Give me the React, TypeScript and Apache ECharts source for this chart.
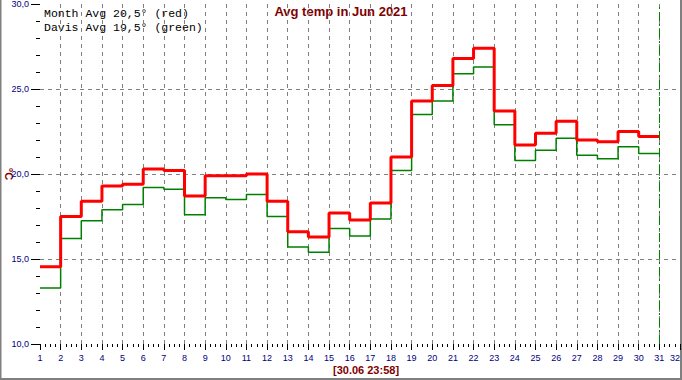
import React, { useEffect, useRef } from "react";
import * as echarts from "echarts";

const days: number[] = [1,2,3,4,5,6,7,8,9,10,11,12,13,14,15,16,17,18,19,20,21,22,23,24,25,26,27,28,29,30];
const monthAvg: number[] = [14.55,17.5,18.4,19.3,19.4,20.3,20.2,18.7,19.9,19.9,20.0,18.4,16.6,16.3,17.7,17.3,18.3,21.0,24.3,25.2,26.8,27.4,23.7,21.7,22.4,23.1,22.0,21.9,22.5,22.2];
const davisAvg: number[] = [13.3,16.2,17.25,17.9,18.2,19.2,19.1,17.6,18.6,18.5,18.8,17.5,15.7,15.4,16.8,16.35,17.35,20.2,23.5,24.3,25.9,26.3,22.9,20.8,21.4,22.1,21.1,20.9,21.6,21.2];
const xTicks = { min: 1, max: 32, interval: 1 };
const yTicks = { min: 10, max: 30, interval: 5 };
const lastDay = 31;
const title = "Avg temp in Jun 2021";
const legendLines: string[] = ["Month Avg 20,5° (red)", "Davis Avg 19,5° (green)"];
const footer = "[30.06 23:58]";
const unitLabel = "°C";

function toSteps(vals: number[]): number[][] {
  const pts = days.map((d, i) => [d, vals[i]]);
  pts.push([lastDay, vals[vals.length - 1]]);
  return pts;
}

export default function App() {
  const ref = useRef<HTMLDivElement>(null);
  useEffect(() => {
    document.body.style.margin = "0";
    const chart = echarts.init(ref.current!, undefined, { renderer: "svg" });
    const labelColor = "#000080";
    const maroon = "#800000";
    chart.setOption({
      animation: false,
      backgroundColor: "#ffffff",
      grid: { left: 40, right: 2, top: 4, bottom: 36, containLabel: false, outerBoundsMode: "none" },
      xAxis: {
        type: "value",
        min: xTicks.min,
        max: xTicks.max,
        interval: xTicks.interval,
        axisLine: { show: false },
        axisTick: { show: true, length: 6, lineStyle: { color: "#000", width: 1 } },
        minorTick: { show: true, splitNumber: 4, length: 3, lineStyle: { color: "#000", width: 1 } },
        axisLabel: { color: labelColor, fontSize: 9, fontFamily: "Liberation Sans, Arial, sans-serif", margin: 9, showMaxLabel: true, showMinLabel: true, alignMaxLabel: "right" },
        splitLine: { show: true, showMinLine: false, showMaxLine: false, lineStyle: { color: "#808080", type: [4, 4], width: 1 } },
      },
      yAxis: {
        type: "value",
        min: yTicks.min,
        max: yTicks.max,
        interval: yTicks.interval,
        axisLine: { show: false },
        axisTick: { show: true, length: 9, lineStyle: { color: "#000", width: 1 } },
        minorTick: { show: true, splitNumber: 5, length: 4, lineStyle: { color: "#000", width: 1 } },
        axisLabel: {
          color: labelColor, fontSize: 9, fontFamily: "Liberation Sans, Arial, sans-serif", margin: 11,
          formatter: (v: number) => v.toFixed(1).replace(".", ","),
        },
        splitLine: { show: true, showMinLine: false, showMaxLine: false, lineStyle: { color: "#808080", type: [4, 4], width: 1 } },
      },
      graphic: [
        { type: "text", left: "center", top: 5, style: { text: title, fill: maroon, font: "bold 13px 'Liberation Sans', Arial, sans-serif" } },
        { type: "text", x: 44, y: 7, style: { text: legendLines[0], fill: "#000", font: "11.5px 'Liberation Mono', 'Courier New', monospace" } },
        { type: "text", x: 44, y: 21, style: { text: legendLines[1], fill: "#000", font: "11.5px 'Liberation Mono', 'Courier New', monospace" } },
        { type: "text", x: 333, y: 364, style: { text: footer, fill: maroon, font: "bold 11px 'Liberation Sans', Arial, sans-serif" } },
        { type: "text", x: 9, y: 174, rotation: -Math.PI / 2, style: { text: unitLabel, fill: maroon, align: "center", verticalAlign: "middle", font: "bold 11px 'Liberation Sans', Arial, sans-serif" } },
        { type: "line", shape: { x1: 0.5, y1: 0, x2: 0.5, y2: 380 }, style: { stroke: "#808080", lineWidth: 2 } },
        { type: "line", shape: { x1: 681, y1: 0, x2: 681, y2: 380 }, style: { stroke: "#808080", lineWidth: 2 } },
        { type: "line", shape: { x1: 0, y1: 379, x2: 682, y2: 379 }, style: { stroke: "#808080", lineWidth: 2 } },
      ],
      series: [
        {
          type: "line",
          step: "end",
          data: toSteps(davisAvg),
          showSymbol: false,
          lineStyle: { color: "#008000", width: 1.5 },
          z: 2,
          markLine: {
            silent: true,
            symbol: "none",
            label: { show: false },
            lineStyle: { color: "#008000", width: 1, type: [9, 3, 2, 3] },
            data: [{ xAxis: lastDay }],
          },
        },
        {
          type: "line",
          step: "end",
          data: toSteps(monthAvg),
          showSymbol: false,
          lineStyle: { color: "#ff0000", width: 3 },
          z: 3,
        },
      ],
    });
    return () => chart.dispose();
  }, []);
  return <div ref={ref} style={{ position: "fixed", left: 0, top: 0, width: 682, height: 380 }} />;
}
